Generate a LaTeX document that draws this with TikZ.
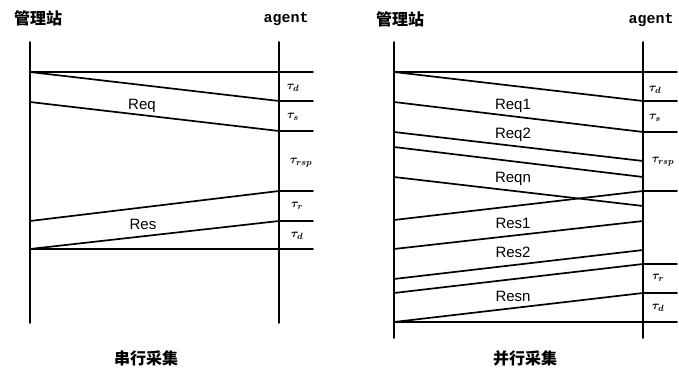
\documentclass[tikz,border=0pt]{standalone}
\usepackage{fontspec}
\setmainfont{Liberation Sans}
\newfontfamily\cjk{Noto Sans CJK SC}
\newfontfamily\monof{Liberation Mono}
\begin{document}
\begin{tikzpicture}[x=1pt,y=-1pt,
  ln/.style={line width=1.7pt,line cap=round},
  lbl/.style={font=\fontsize{15}{15}\selectfont,inner sep=0pt},
  tau/.style={font=\boldmath\fontsize{13}{13}\selectfont,inner sep=0pt},
  ttl/.style={font=\cjk\bfseries\fontsize{16}{16}\selectfont,inner sep=0pt},
  ag/.style={font=\monof\bfseries\fontsize{15}{15}\selectfont,inner sep=0pt}]
\fill[white] (0,0) rectangle (679,371);
\useasboundingbox (0,0) rectangle (679,371);

% ---------- left: serial ----------
\node[ttl] (t1) at (38,18) {管理站};
\node[ag] (a1) at (286,19) {agent};
\node[ttl] (c1) at (146,358) {串行采集};

\coordinate (L1top) at (30,42);  \coordinate (L1bot) at (30,323);
\coordinate (R1top) at (279,42); \coordinate (R1bot) at (279,323);
\draw[ln] (L1top) -- (L1bot);
\draw[ln] (R1top) -- (R1bot);

\coordinate (l0) at (30,72);   \coordinate (e0) at (313,72);
\coordinate (r1) at (279,101); \coordinate (e1) at (313,101);
\coordinate (l2) at (30,102);  \coordinate (r2) at (279,131); \coordinate (e2) at (313,131);
\coordinate (l3) at (30,221);  \coordinate (r3) at (279,191); \coordinate (e3) at (313,191);
\coordinate (l4) at (30,249);  \coordinate (r4) at (279,221); \coordinate (e4) at (313,221);
\coordinate (e5) at (313,249);

\draw[ln] (l0) -- (e0);
\draw[ln] (l0) -- (r1) -- (e1);
\draw[ln] (l2) -- (r2) -- (e2);
\draw[ln] (l3) -- (r3) -- (e3);
\draw[ln] (l4) -- (r4) -- (e4);
\draw[ln] (l4) -- (e5);

\node[lbl] (req) at (142,106) {Req};
\node[lbl] (res) at (143,224) {Res};

\node[tau] (ta1) at (293,88) {$\tau_d$};
\node[tau] (ta2) at (293,117) {$\tau_s$};
\node[tau] (ta3) at (301,163) {$\tau_{rsp}$};
\node[tau] (ta4) at (297,206) {$\tau_r$};
\node[tau] (ta5) at (297,236) {$\tau_d$};

% ---------- right: parallel ----------
\node[ttl] (t2) at (400,19) {管理站};
\node[ag] (a2) at (651,20) {agent};
\node[ttl] (c2) at (525,358) {并行采集};

\coordinate (L2top) at (394,42);  \coordinate (L2bot) at (394,338);
\coordinate (R2top) at (643,42);  \coordinate (R2bot) at (643,338);
\draw[ln] (L2top) -- (L2bot);
\draw[ln] (R2top) -- (R2bot);

\coordinate (pA) at (394,72);  \coordinate (qA) at (643,101); \coordinate (fT) at (677,72); \coordinate (fA) at (677,101);
\coordinate (pB) at (394,102); \coordinate (qB) at (643,132); \coordinate (fB) at (677,132);
\coordinate (pC) at (394,132); \coordinate (qC) at (643,161);
\coordinate (pD) at (394,147); \coordinate (qD) at (643,177);
\coordinate (pE) at (394,177); \coordinate (qE) at (643,206);
\coordinate (pF) at (394,220); \coordinate (qF) at (643,191); \coordinate (fF) at (677,191);
\coordinate (pG) at (394,249); \coordinate (qG) at (643,221);
\coordinate (pH) at (394,279); \coordinate (qH) at (643,250);
\coordinate (pI) at (394,293); \coordinate (qI) at (643,264); \coordinate (fI) at (677,264);
\coordinate (pJ) at (394,322); \coordinate (qJ) at (643,293); \coordinate (fJ) at (677,293);
\coordinate (fK) at (677,322);

\draw[ln] (pA) -- (fT);
\draw[ln] (pA) -- (qA) -- (fA);
\draw[ln] (pB) -- (qB) -- (fB);
\draw[ln] (pC) -- (qC);
\draw[ln] (pD) -- (qD);
\draw[ln] (pE) -- (qE);
\draw[ln] (pF) -- (qF) -- (fF);
\draw[ln] (pG) -- (qG);
\draw[ln] (pH) -- (qH);
\draw[ln] (pI) -- (qI) -- (fI);
\draw[ln] (pJ) -- (qJ) -- (fJ);
\draw[ln] (pJ) -- (fK);

\node[lbl] (rq1) at (513,106) {Req1};
\node[lbl] (rq2) at (513,135) {Req2};
\node[lbl] (rqn) at (513,179) {Reqn};
\node[lbl] (rs1) at (513,223) {Res1};
\node[lbl] (rs2) at (513,252) {Res2};
\node[lbl] (rsn) at (513,296) {Resn};

\node[tau] (tb1) at (655,90) {$\tau_d$};
\node[tau] (tb2) at (655,118) {$\tau_s$};
\node[tau] (tb3) at (663,162) {$\tau_{rsp}$};
\node[tau] (tb4) at (658,278) {$\tau_r$};
\node[tau] (tb5) at (658,308) {$\tau_d$};
\end{tikzpicture}
\end{document}
